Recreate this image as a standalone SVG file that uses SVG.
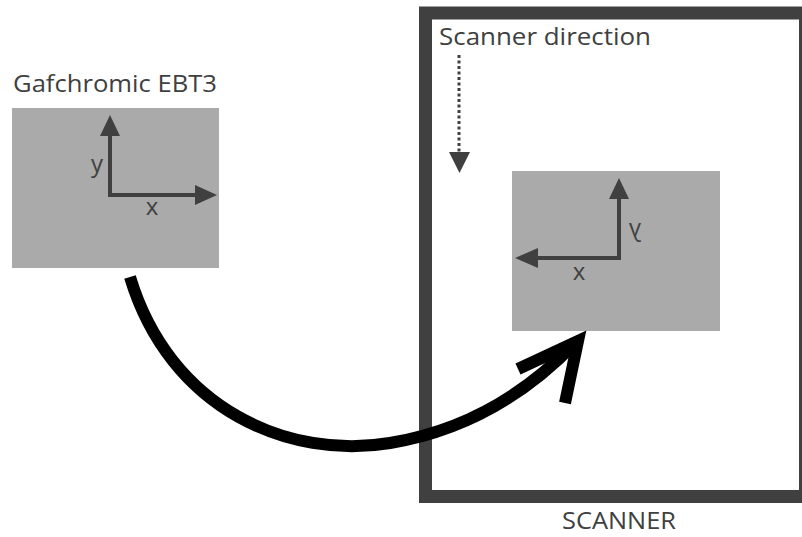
<svg xmlns="http://www.w3.org/2000/svg" width="802" height="537" viewBox="0 0 802 537">
<defs>
<style>
.lbl{font-family:"Open Sans","Liberation Sans",sans-serif;font-size:24px;fill:#404040}
.film{fill:#aaaaaa}
.axis{stroke:#404040;stroke-width:4;fill:none}
.head{fill:#404040}
</style>
</defs>
<rect width="802" height="537" fill="#ffffff"/>
<g id="scanner">
<rect x="425.5" y="13" width="380" height="483.5" fill="none" stroke="#404040" stroke-width="13"/>
<text class="lbl" x="619" y="529" text-anchor="middle" textLength="114" lengthAdjust="spacingAndGlyphs">SCANNER</text>
</g>
<g id="scan-direction">
<text class="lbl" x="439" y="45" textLength="212" lengthAdjust="spacingAndGlyphs">Scanner direction</text>
<line x1="459" y1="55" x2="459" y2="153" stroke="#404040" stroke-width="3" stroke-dasharray="3 2.5"/>
<polygon class="head" points="449,152 470,152 459.5,173"/>
</g>
<g id="film-left">
<text class="lbl" x="13" y="92" textLength="204" lengthAdjust="spacingAndGlyphs">Gafchromic EBT3</text>
<rect class="film" x="12" y="108" width="207" height="160"/>
<polyline class="axis" points="110,135 110,195 197,195"/>
<polygon class="head" points="100,136 120,136 110,115"/>
<polygon class="head" points="195,185 195,205 217,195"/>
<text class="lbl" x="97" y="172" text-anchor="middle">y</text>
<text class="lbl" x="152" y="215" text-anchor="middle">x</text>
</g>
<g id="film-right">
<rect class="film" x="512" y="171" width="208" height="160"/>
<polyline class="axis" points="619,198 619,258 537,258"/>
<polygon class="head" points="609,199 629,199 619,178"/>
<polygon class="head" points="538,248 538,268 515,258"/>
<text class="lbl" x="-635" y="236" text-anchor="middle" transform="scale(-1,1)">y</text>
<text class="lbl" x="579" y="280" text-anchor="middle">x</text>
</g>
<g id="connectors">
<path d="M130,277 C170,410 290,460 390,443 C470,430 530,390 576,342" fill="none" stroke="#000" stroke-width="12"/>
<polyline points="518,369 578,341 565,403" fill="none" stroke="#000" stroke-width="12" stroke-linejoin="miter" stroke-miterlimit="10"/>
</g>
</svg>
